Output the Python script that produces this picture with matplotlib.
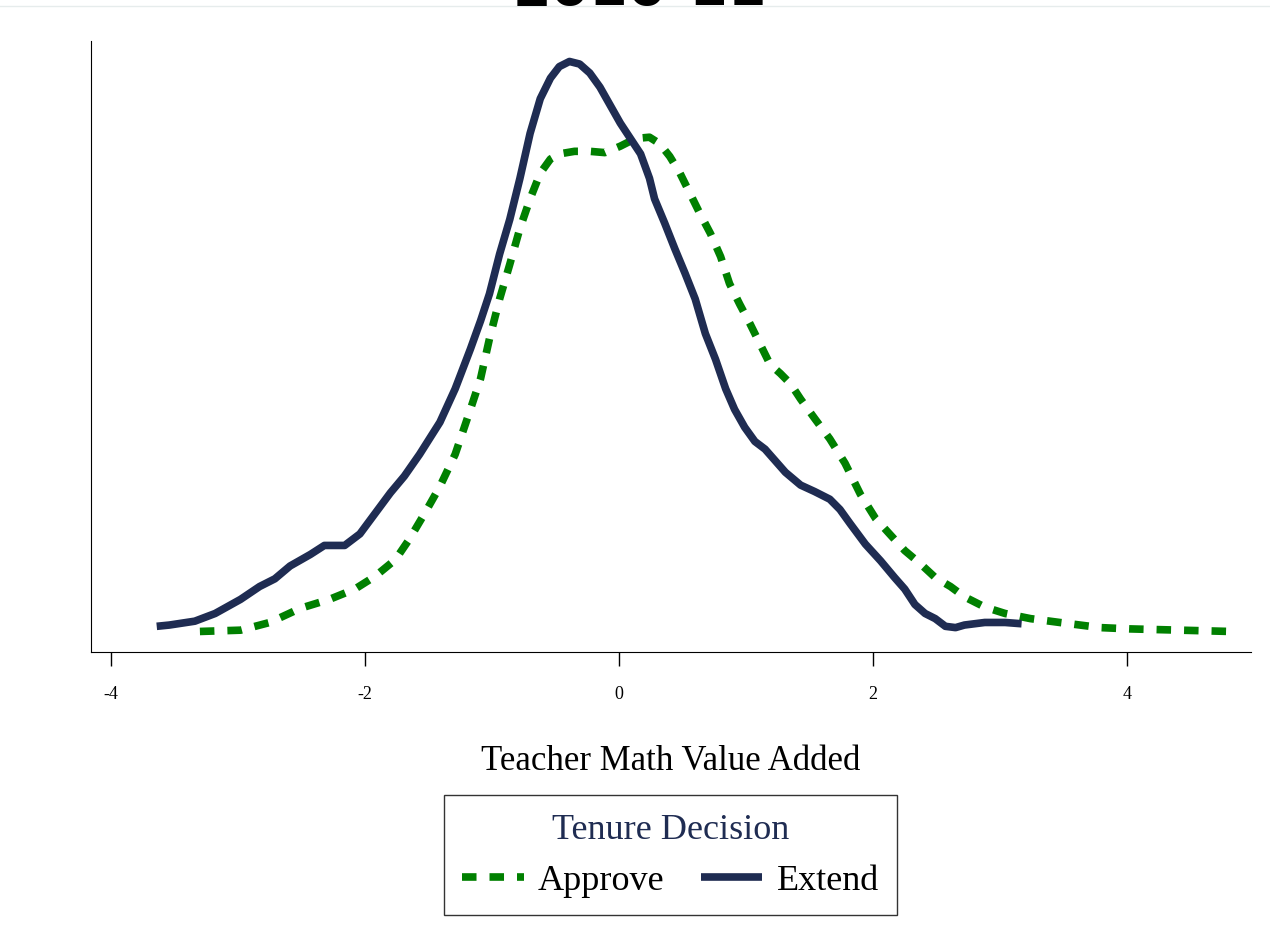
# Tenure decision densities of teacher math value added
import matplotlib.pyplot as plt
from matplotlib.lines import Line2D

# Extend (solid navy) density curve
extend_x = [-3.64, -3.54, -3.34, -3.18, -2.98, -2.83, -2.71, -2.59, -2.43, -2.32,
            -2.16, -2.04, -1.92, -1.80, -1.69, -1.57, -1.41, -1.29, -1.17, -1.09,
            -1.02, -0.94, -0.86, -0.78, -0.70, -0.62, -0.54, -0.47, -0.39, -0.31,
            -0.23, -0.15, -0.07, 0.01, 0.09, 0.17, 0.24, 0.28, 0.36, 0.44,
            0.52, 0.60, 0.68, 0.76, 0.84, 0.91, 0.99, 1.07, 1.15, 1.23,
            1.31, 1.43, 1.54, 1.66, 1.74, 1.82, 1.94, 2.06, 2.17, 2.25,
            2.33, 2.41, 2.49, 2.57, 2.65, 2.72, 2.88, 3.04, 3.17]
extend_y = [0.020, 0.021, 0.024, 0.030, 0.041, 0.051, 0.057, 0.067, 0.076, 0.083,
            0.083, 0.092, 0.108, 0.124, 0.137, 0.154, 0.179, 0.205, 0.236, 0.258,
            0.279, 0.310, 0.337, 0.369, 0.404, 0.431, 0.447, 0.456, 0.460, 0.458,
            0.451, 0.440, 0.426, 0.412, 0.400, 0.388, 0.369, 0.353, 0.334, 0.314,
            0.295, 0.275, 0.248, 0.228, 0.205, 0.189, 0.175, 0.164, 0.158, 0.149,
            0.140, 0.130, 0.125, 0.119, 0.111, 0.100, 0.084, 0.071, 0.058, 0.049,
            0.037, 0.030, 0.026, 0.020, 0.019, 0.021, 0.023, 0.023, 0.022]

# Approve (dashed green) density curve
approve_x = [-3.30, -2.98, -2.75, -2.51, -2.28, -2.08, -1.92, -1.76, -1.65, -1.53,
             -1.41, -1.29, -1.17, -1.09, -1.02, -0.94, -0.86, -0.78, -0.70, -0.62,
             -0.54, -0.47, -0.35, -0.23, -0.11, 0.01, 0.13, 0.24, 0.32, 0.40,
             0.48, 0.56, 0.64, 0.72, 0.80, 0.87, 0.95, 1.03, 1.11, 1.19,
             1.27, 1.35, 1.43, 1.54, 1.66, 1.78, 1.90, 2.02, 2.13, 2.25,
             2.37, 2.49, 2.61, 2.72, 2.88, 3.04, 3.24, 3.47, 3.79, 4.02,
             4.42, 4.81]
approve_y = [0.016, 0.017, 0.023, 0.034, 0.041, 0.049, 0.059, 0.072, 0.088, 0.108,
             0.129, 0.154, 0.189, 0.213, 0.244, 0.275, 0.302, 0.330, 0.353, 0.373,
             0.384, 0.388, 0.390, 0.390, 0.389, 0.394, 0.400, 0.401, 0.396, 0.386,
             0.373, 0.357, 0.341, 0.326, 0.308, 0.287, 0.271, 0.256, 0.240, 0.224,
             0.217, 0.209, 0.197, 0.182, 0.166, 0.147, 0.123, 0.104, 0.092, 0.079,
             0.069, 0.058, 0.051, 0.043, 0.035, 0.030, 0.026, 0.023, 0.019, 0.018,
             0.017, 0.016]

xticks = [-4, -2, 0, 2, 4]

navy = '#1f2c52'
green = '#008000'

plt.rcParams['font.family'] = ['Liberation Serif', 'DejaVu Serif']

fig = plt.figure(figsize=(12.7, 9.53), dpi=100)
ax = fig.add_axes([0.0717, 0.3148, 0.9133, 0.6412])

ax.plot(approve_x, approve_y, color=green, lw=5.5, linestyle=(0, (1.9, 1.7)),
        label='Approve', dash_capstyle='butt', dash_joinstyle='round')
ax.plot(extend_x, extend_y, color=navy, lw=5.5, label='Extend',
        solid_capstyle='butt', solid_joinstyle='round')

ax.set_xlim(-4.157, 4.976)
ax.set_ylim(0, 0.476)
ax.set_xticks(xticks)
ax.set_xticklabels([str(t) for t in xticks], fontsize=13)
ax.tick_params(axis='x', length=10, width=1, pad=14)
ax.set_yticks([])
ax.spines['top'].set_visible(False)
ax.spines['right'].set_visible(False)
ax.set_xlabel('Teacher Math Value Added', fontsize=25, labelpad=30)

leg = fig.legend(loc='center', bbox_to_anchor=(0.528, 0.1018), ncol=2,
                 title='Tenure Decision', fontsize=26, title_fontsize=26,
                 frameon=True, fancybox=False, edgecolor='black',
                 handlelength=1.7, handletextpad=0.4, columnspacing=1.0,
                 borderpad=0.5, borderaxespad=0, labelspacing=0.5)
leg.get_frame().set_linewidth(1)
leg.get_title().set_color(navy)

# title cut off at the top edge
fig.text(0.504, 1 - 5 / 953, '2010-11', ha='center', va='baseline', fontsize=40,
         fontweight='bold', family='DejaVu Sans')
fig.add_artist(Line2D([0, 1], [0.9927, 0.9927], transform=fig.transFigure,
                      color='#e6ecec', lw=1))

fig.savefig('out.png', dpi=100)
